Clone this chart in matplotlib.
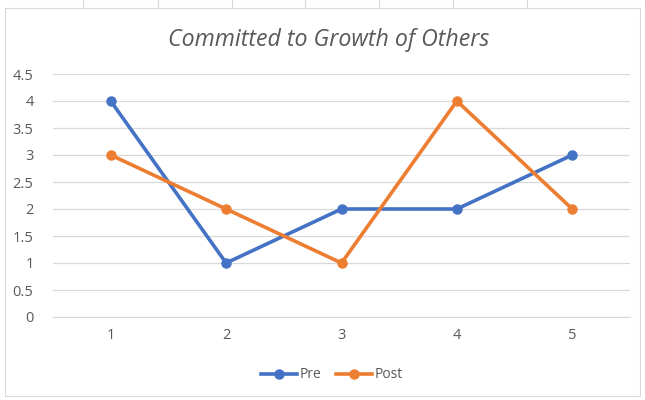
import matplotlib.pyplot as plt
from matplotlib.patches import Rectangle
from matplotlib.lines import Line2D

categories = [1, 2, 3, 4, 5]
pre = [4, 1, 2, 2, 3]
post = [3, 2, 1, 4, 2]
yticks = [0, 0.5, 1, 1.5, 2, 2.5, 3, 3.5, 4, 4.5]
ytick_labels = ["0", "0.5", "1", "1.5", "2", "2.5", "3", "3.5", "4", "4.5"]

W, H = 645, 400
fig = plt.figure(figsize=(W / 100, H / 100), dpi=100)
fig.patch.set_facecolor("white")

# spreadsheet cell lines behind the chart
for xc in [83, 158, 232, 305, 379, 453, 527]:
    fig.add_artist(Line2D([xc / W, xc / W], [1, 1 - 8 / H], color="#d9d9d9", lw=0.8, zorder=-10))
fig.add_artist(Rectangle((5 / W, 4 / H), 635 / W, 388 / H, fill=True, zorder=-10,
                         facecolor="white", edgecolor="#d9d9d9", lw=0.8))

ax = fig.add_axes([53 / W, 1 - 317 / H, 577 / W, 243 / H])
ax.patch.set_alpha(0)
x = range(len(categories))
ax.plot(x, pre, color="#4472C4", lw=2.6, marker="o", ms=6.5, label="Pre")
ax.plot(x, post, color="#ED7D31", lw=2.6, marker="o", ms=6.5, label="Post")

ax.set_xlim(-0.5, len(categories) - 0.5)
ax.set_ylim(0, 4.5)
ax.set_yticks(yticks)
ax.set_yticklabels(ytick_labels)
ax.set_xticks(list(x))
ax.set_xticklabels([str(c) for c in categories])
ax.grid(axis="y", color="#d9d9d9", lw=0.9)
ax.set_axisbelow(True)
for s in ["top", "right", "left"]:
    ax.spines[s].set_visible(False)
ax.spines["bottom"].set_color("#d9d9d9")
ax.tick_params(length=0, colors="#595959", labelsize=10.5)
ax.tick_params(axis="x", pad=8)
ax.tick_params(axis="y", pad=14)
for lab in ax.get_yticklabels() + ax.get_xticklabels():
    lab.set_family("Open Sans")

fig.text(329 / W, 1 - 40 / H, "Committed to Growth of Others", ha="center", va="center",
         fontsize=16.7, style="italic", color="#595959", family="Open Sans")

fig.legend(loc="center", bbox_to_anchor=(332 / W, 1 - 375 / H), ncol=2, frameon=False,
           handlelength=2.6, columnspacing=1.0, handletextpad=0.2,
           prop={"family": "Open Sans", "size": 10}, labelcolor="#595959")

fig.savefig("out.png", dpi=100)
